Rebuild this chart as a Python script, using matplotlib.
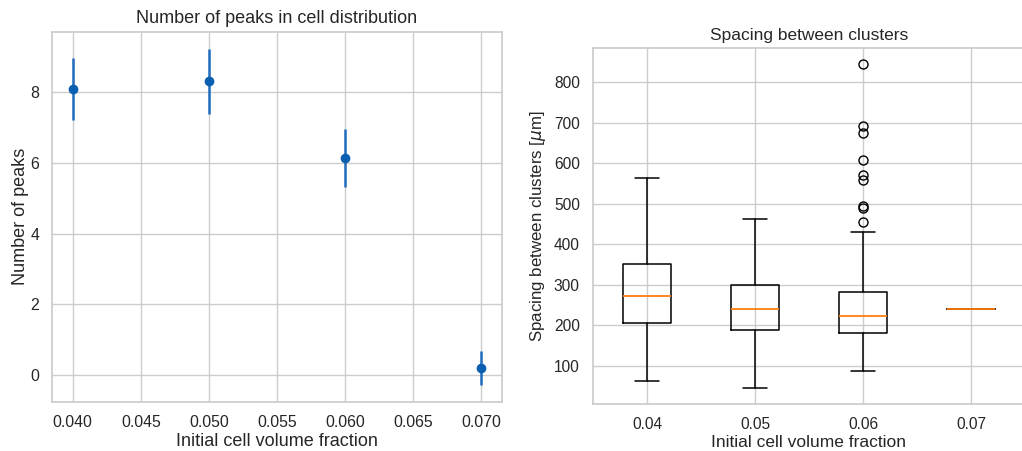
import matplotlib
matplotlib.use("Agg")
import matplotlib.pyplot as plt
import seaborn as sns

# --- peaks per initial volume fraction (mean +/- error) ---
fractions = [0.04, 0.05, 0.06, 0.07]
peaks_mean = [8.08, 8.30, 6.13, 0.20]
peaks_err = [0.87, 0.93, 0.82, 0.48]

# --- spacing between clusters, box statistics per fraction ---
spacing_labels = ["0.04", "0.05", "0.06", "0.07"]
spacing_whislo = [62, 46, 87, 241.5]
spacing_q1 = [207, 189, 180, 241.5]
spacing_med = [272, 241.5, 223, 241.5]
spacing_q3 = [351, 299, 282, 241.5]
spacing_whishi = [564, 462, 429, 241.5]
spacing_fliers = [[], [], [844, 692, 675, 607, 571, 559, 494, 489, 455], []]

sns.set_theme(style="whitegrid")
plt.rcParams["font.family"] = ["Liberation Sans", "DejaVu Sans"]

fig = plt.figure(figsize=(10.22, 4.51), dpi=100)
ax1 = fig.add_axes([0.0512, 0.1093, 0.4397, 0.8204])
ax2 = fig.add_axes([0.5802, 0.1042, 0.4227, 0.7894])

# left: errorbar plot
ax1.errorbar(fractions, peaks_mean, yerr=peaks_err, fmt="o", color="#0b5fb0",
             ecolor="#1f6cbf", elinewidth=1.8, markersize=6, capsize=0)
ax1.set_title("Number of peaks in cell distribution", fontsize=13)
ax1.set_xlabel("Initial cell volume fraction", fontsize=13, labelpad=2)
ax1.set_ylabel("Number of peaks", fontsize=13, labelpad=1)
ax1.xaxis.set_major_formatter(matplotlib.ticker.FormatStrFormatter("%.3f"))
ax1.tick_params(labelsize=11.4)

# right: box plot from precomputed stats
stats = []
for i, lab in enumerate(spacing_labels):
    stats.append({
        "label": lab,
        "whislo": spacing_whislo[i],
        "q1": spacing_q1[i],
        "med": spacing_med[i],
        "q3": spacing_q3[i],
        "whishi": spacing_whishi[i],
        "fliers": spacing_fliers[i],
    })
ax2.bxp(stats,
        boxprops=dict(color="black", linewidth=1.1),
        whiskerprops=dict(color="black", linewidth=1.1),
        capprops=dict(color="black", linewidth=1.1),
        medianprops=dict(color="#ff7f0e", linewidth=1.3),
        flierprops=dict(marker="o", markerfacecolor="none",
                        markeredgecolor="black", markersize=6.5))
ax2.set_title("Spacing between clusters", fontsize=12.5)
ax2.set_xlabel("Initial cell volume fraction", fontsize=12.5, labelpad=2)
ax2.set_ylabel(r"Spacing between clusters [$\mu$m]", fontsize=12.2)
ax2.tick_params(labelsize=11.2)
ax2.grid(True)

fig.savefig("out.png", dpi=100)
